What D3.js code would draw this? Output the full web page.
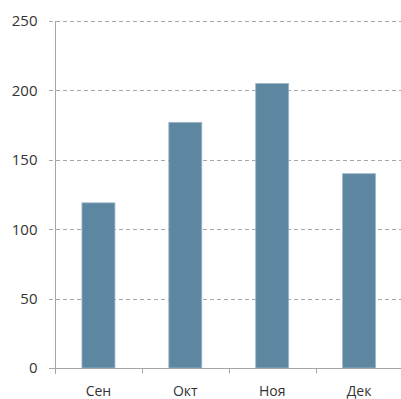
<!DOCTYPE html>
<html>
<head>
<meta charset="utf-8">
<script src="https://cdn.jsdelivr.net/npm/d3@7/dist/d3.min.js"></script>
<style>
  html, body { margin: 0; padding: 0; background: #fff; }
  svg { display: block; }
  text { font-family: "Open Sans", "Noto Sans", sans-serif; }
</style>
</head>
<body>
<svg id="chart" width="401" height="399"></svg>
<script>
// Monthly values
const categories = ["Сен", "Окт", "Ноя", "Дек"];
const values = [119, 177, 205, 140];
const yTicks = [0, 50, 100, 150, 200, 250];

const W = 401, H = 399;
const margin = { left: 55, right: -1.5, top: 21, bottom: 31 };

const svg = d3.select("#chart");

const x = d3.scaleBand()
  .domain(categories)
  .range([margin.left, W - margin.right])
  .padding(0);

const y = d3.scaleLinear()
  .domain([0, 250])
  .range([H - margin.bottom, margin.top]);

// Dashed horizontal gridlines
svg.append("g")
  .selectAll("line")
  .data(yTicks.filter(d => d > 0))
  .join("line")
  .attr("x1", margin.left - 6)
  .attr("x2", W)
  .attr("y1", d => Math.round(y(d)) + 0.5)
  .attr("y2", d => Math.round(y(d)) + 0.5)
  .attr("stroke", "#a6a6a6")
  .attr("stroke-dasharray", "4,3");

// Bars
const barFrac = 0.38;
svg.append("g")
  .selectAll("rect")
  .data(categories.map((c, i) => ({ c, v: values[i] })))
  .join("rect")
  .attr("x", d => x(d.c) + x.bandwidth() * (1 - barFrac) / 2)
  .attr("width", x.bandwidth() * barFrac)
  .attr("y", d => y(d.v))
  .attr("height", d => y(0) - y(d.v))
  .attr("fill", "#5d87a1")
  .attr("stroke", "#9fb9cb")
  .attr("stroke-width", 0.8);

// Y axis
const yAxis = d3.axisLeft(y).tickValues(yTicks).tickSize(6).tickPadding(12);
const gy = svg.append("g")
  .attr("transform", `translate(${margin.left + 0.5},0)`)
  .call(yAxis);
gy.select(".domain").attr("stroke", "#a6a6a6").attr("d", `M0,${y(250)}V${y(0) + 6}`);
gy.selectAll(".tick line").attr("stroke", "#a6a6a6");
gy.selectAll(".tick text")
  .attr("fill", "#333")
  .style("font-size", "15px");
gy.selectAll(".tick").filter(d => d > 0).select("line").remove();

// X axis with boundary ticks between categories
const y0 = Math.round(y(0)) + 0.5;
const gx = svg.append("g");
gx.append("line")
  .attr("x1", margin.left - 6).attr("x2", W)
  .attr("y1", y0).attr("y2", y0)
  .attr("stroke", "#a6a6a6");
gx.selectAll("line.b")
  .data(categories.slice(1))
  .join("line")
  .attr("class", "b")
  .attr("x1", d => Math.round(x(d)) + 0.5)
  .attr("x2", d => Math.round(x(d)) + 0.5)
  .attr("y1", y0).attr("y2", y0 + 5)
  .attr("stroke", "#a6a6a6");
gx.selectAll("text")
  .data(categories)
  .join("text")
  .attr("x", d => x(d) + x.bandwidth() / 2)
  .attr("y", y0 + 27)
  .attr("text-anchor", "middle")
  .attr("fill", "#333")
  .style("font-size", "14px")
  .text(d => d);
</script>
</body>
</html>
